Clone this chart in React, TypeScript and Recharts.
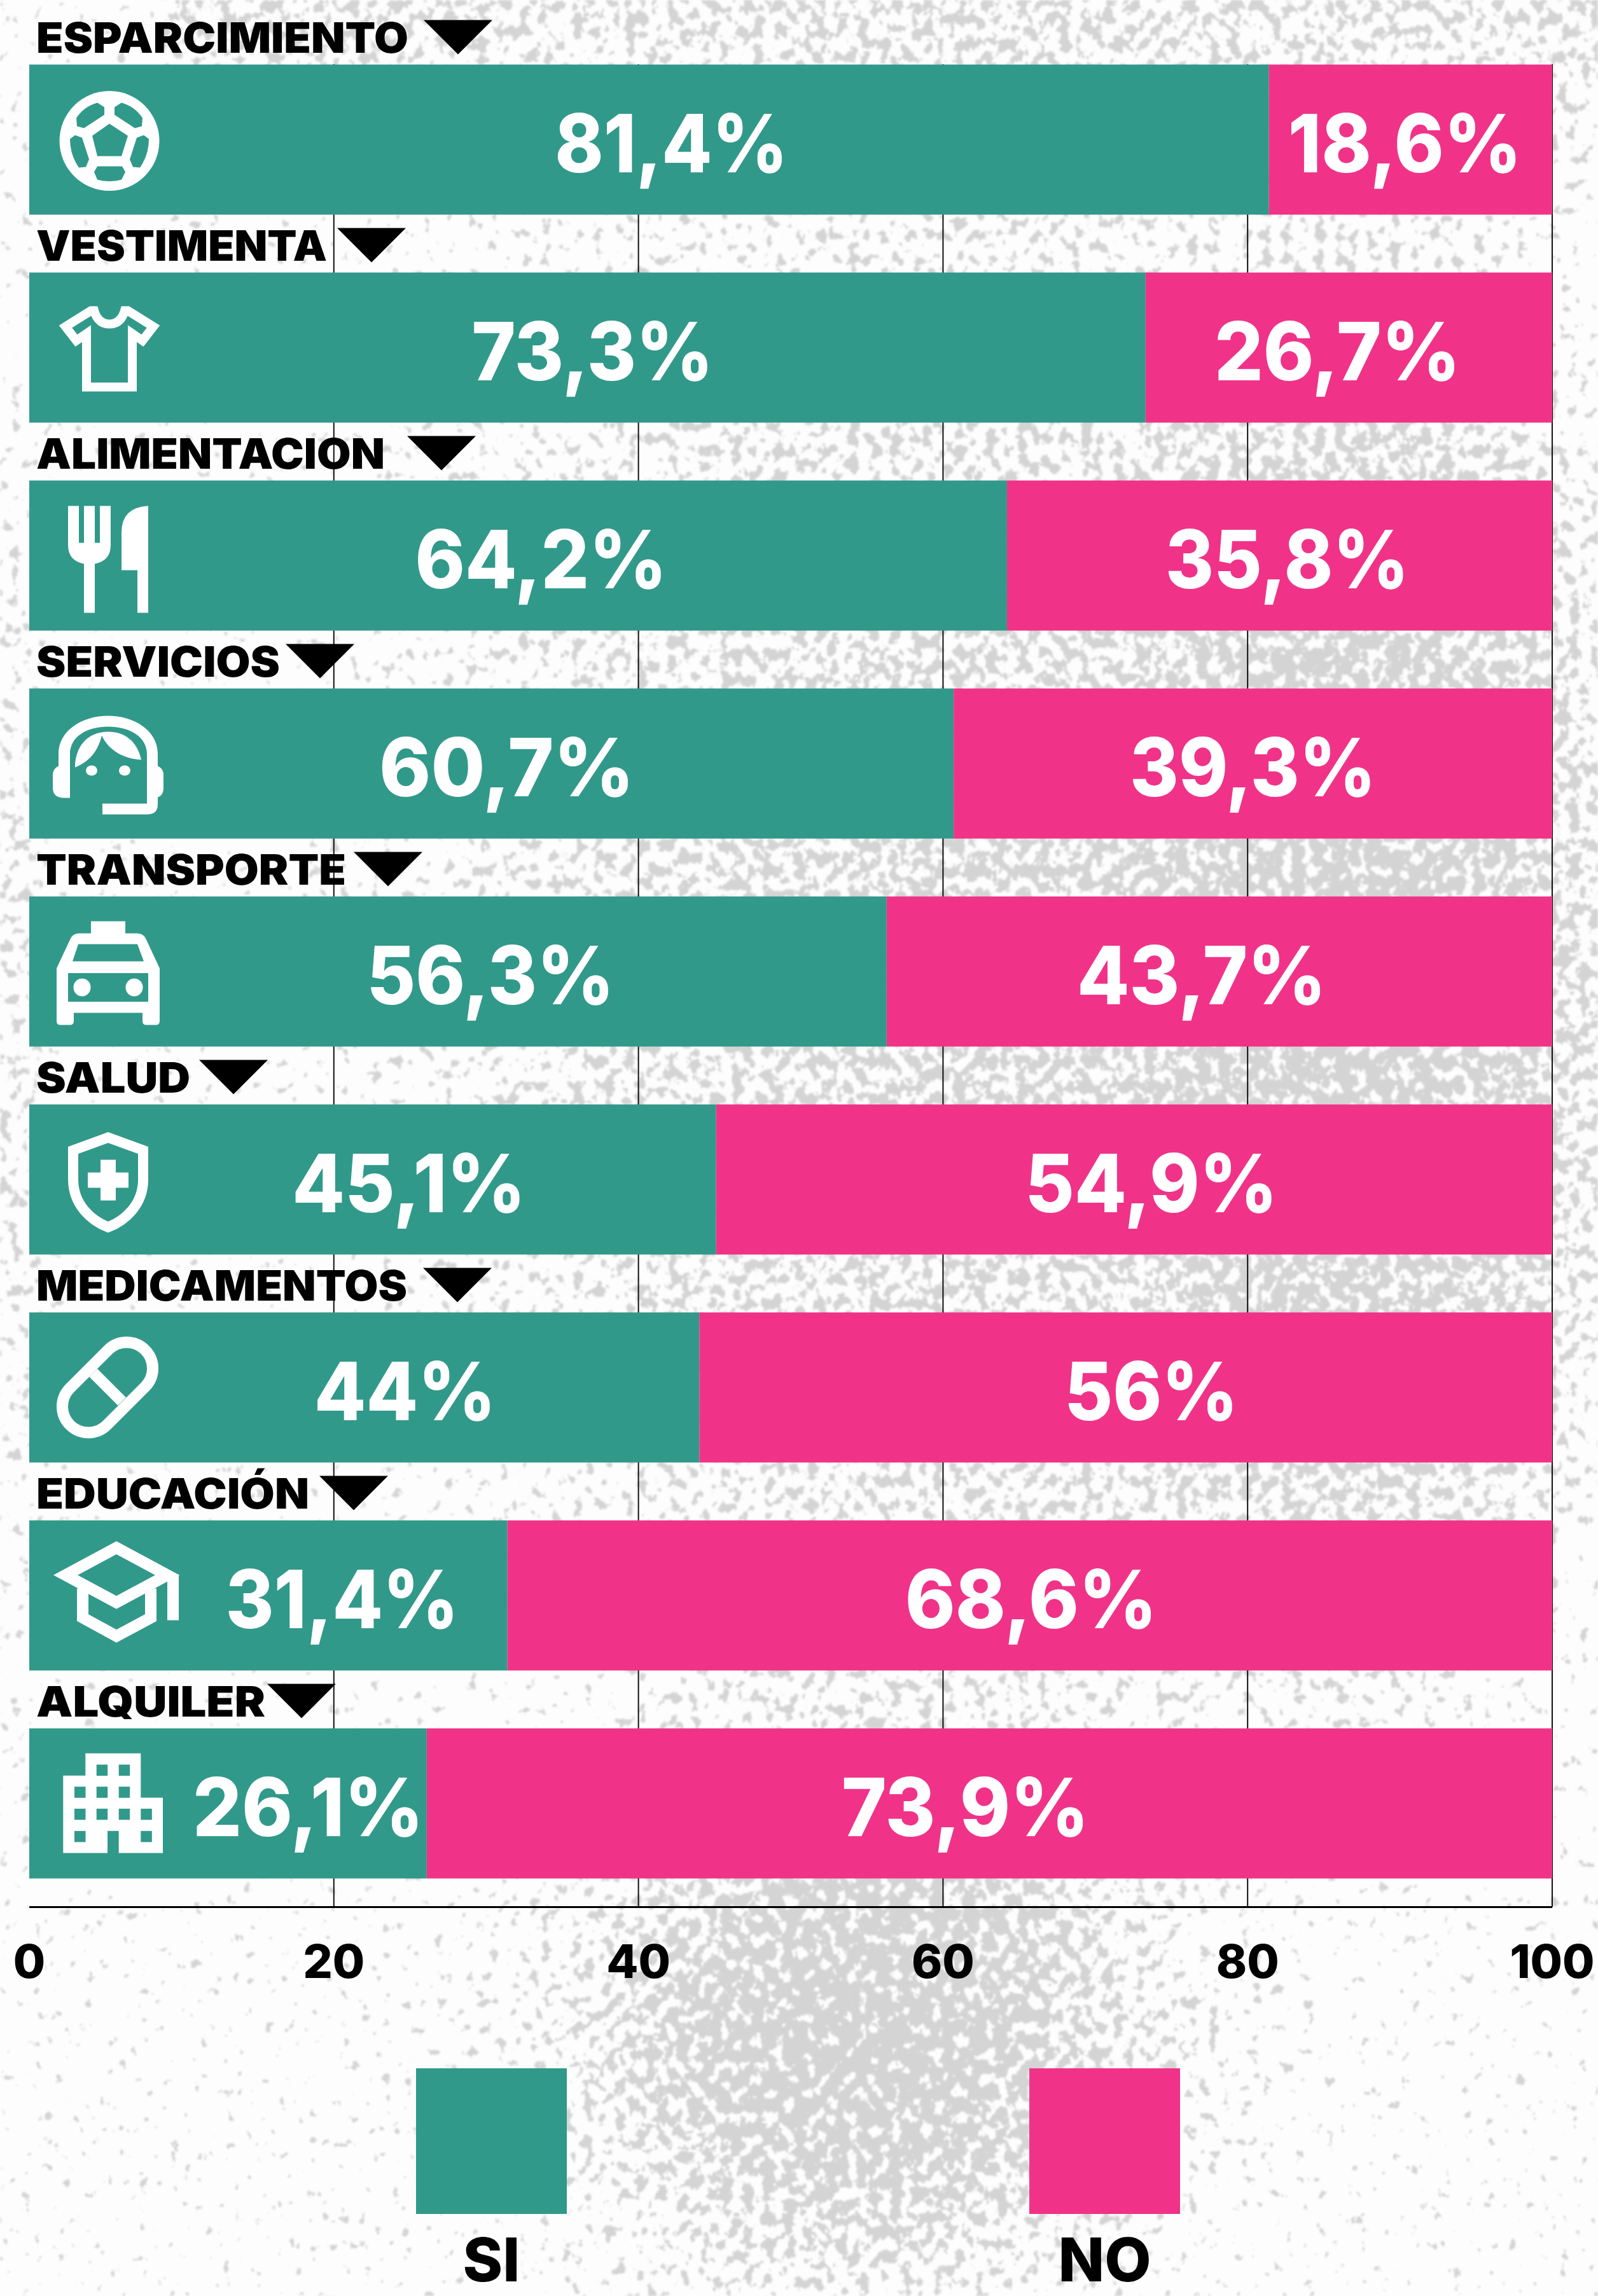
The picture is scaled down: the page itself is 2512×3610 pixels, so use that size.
import React from 'react';
import { BarChart, Bar, XAxis, YAxis, CartesianGrid, LabelList, Legend } from 'recharts';

const categories = ['ESPARCIMIENTO', 'VESTIMENTA', 'ALIMENTACION', 'SERVICIOS', 'TRANSPORTE', 'SALUD', 'MEDICAMENTOS', 'EDUCACIÓN', 'ALQUILER'];
const siValues = [81.4, 73.3, 64.2, 60.7, 56.3, 45.1, 44, 31.4, 26.1];
const noValues = [18.6, 26.7, 35.8, 39.3, 43.7, 54.9, 56, 68.6, 73.9];
const xTicks = [0, 20, 40, 60, 80, 100];

// layout hints for the annotations (not data)
const headerWidths = [585, 457, 548, 383, 487, 242, 583, 429, 360];
const markerCenters = [720, 584, 694, 503, 610, 367, 719, 556, 474];
const siShift = [35, 8, 36, 24, 51, 57, 64, 116, 126];
const siWidth = [366, 380, 396, 401, 389, 367, 286, 366, 363];
const noShift = [-9, -18, 12, 0, -28, 27, 40, 2, -38];
const noWidth = [367, 387, 383, 387, 392, 397, 273, 396, 389];

const TEAL = '#31998A';
const PINK = '#F03388';
const FONT = 'Inter, "Noto Sans", sans-serif';

const table = categories.map((name, i) => ({ name, si: siValues[i], no: noValues[i] }));

function Ball() {
  const tl = 'M-19,-60 L-8,-53 L-8,-41 L-40,-20 L-51,-23 L-52,-36 Q-40,-54 -19,-60 Z';
  const tr = 'M19,-60 L8,-53 L8,-41 L40,-20 L51,-23 L52,-36 Q40,-54 19,-60 Z';
  const l = 'M-62,-3 L-54,-9 L-43,-5 L-32,29 L-37,41 L-48,42 Q-62,22 -62,-3 Z';
  const r = 'M62,-3 L54,-9 L43,-5 L32,29 L37,41 L48,42 Q62,22 62,-3 Z';
  const b = 'M-19,40 L20,40 L25,49 L19,61 Q0,66 -19,61 L-24,49 Z';
  const c = 'M0,-27 L29,-8 L19,24 L-19,24 L-27,-8 Z';
  return (
    <g transform="translate(126,2)">
      <circle r={78.5} fill="#fff" />
      {[tl, tr, l, r, b, c].map((d) => <path key={d} d={d} fill={TEAL} />)}
    </g>
  );
}
function Shirt() {
  return (
    <path transform="translate(126,0)" fill="none" stroke="#fff" strokeWidth={14} strokeLinejoin="miter"
      d="M-24,-58 Q-18,-37 0,-37 Q18,-37 24,-58 L29,-58 L69,-33 L52,-11 L36,-22 L36,62 L-36,62 L-36,-22 L-52,-11 L-69,-33 L-29,-58 Z" />
  );
}
function Cutlery() {
  return (
    <g fill="#fff">
      <path d="M61,-78 L78,-78 L78,-20 L86,-20 L86,-78 L103,-78 L103,-20 L111,-20 L111,-78 L128,-78 L128,-16 Q128,8 103,13 L103,90 L86,90 L86,13 Q61,8 61,-16 Z" />
      <path d="M187,-78 Q145,-76 145,-36 L145,23 L170,23 L170,90 L187,90 Z" />
    </g>
  );
}
function Headset() {
  return (
    <g fill="#fff">
      <path d="M64,54 L64,-15 C64,-42 90,-58 124,-58 C158,-58 185,-42 185,-15 L185,63 L115,63 L115,80 L185,80 Q202,80 202,64 L202,53 Q211,50 211,38 L211,18 Q211,8 202,4 L202,-15 C202,-52 165,-75 124,-75 C83,-75 46,-52 46,-15 L46,4 Q37,8 37,18 L37,38 Q37,54 55,54 Z" />
      <path d="M72,6 C72,-25 90,-50 124,-50 C150,-50 170,-35 176,-6 C150,-7 125,-20 114,-44 C108,-20 95,-3 72,6 Z" />
      <ellipse cx={98} cy={11} rx={9} ry={8} />
      <ellipse cx={150} cy={11} rx={9} ry={8} />
    </g>
  );
}
function Taxi() {
  return (
    <g>
      <path fill="#fff" d="M97,-79 L151,-79 L151,-60 L170,-60 Q180,-60 184,-50 L205,-5 L205,78 Q205,84 199,84 L184,84 Q178,84 178,78 L178,65 L70,65 L70,78 Q70,84 64,84 L49,84 Q43,84 43,78 L43,-5 L64,-50 Q68,-60 78,-60 L97,-60 Z" />
      <path fill={TEAL} d="M77,-43 L170,-43 L180,-16 L68,-16 Z" />
      <rect x={61} y={2.5} width={126} height={45} fill={TEAL} />
      <ellipse cx={83} cy={25} rx={13.5} ry={14} fill="#fff" />
      <ellipse cx={165} cy={25} rx={13.5} ry={14} fill="#fff" />
    </g>
  );
}
function Shield() {
  return (
    <g>
      <path fill="none" stroke="#fff" strokeWidth={16} d="M124,-66 L179,-46 L179,0 C179,40 150,65 124,75 C98,65 69,40 69,0 L69,-46 Z" />
      <path fill="#fff" d="M112,-31 L136,-31 L136,-11 L156,-11 L156,13 L136,13 L136,33 L112,33 L112,13 L92,13 L92,-11 L112,-11 Z" />
    </g>
  );
}
function Pill() {
  return (
    <g fill="none" stroke="#fff" strokeWidth={18}>
      <path d="M64,1 L124,-59 A41,41 0 0 1 182,-1 L122,59 A41,41 0 0 1 64,1 Z" />
      <path d="M100.7,-23 L145.7,22" />
    </g>
  );
}
function Cap() {
  return (
    <g>
      <g fill="none" stroke="#fff" strokeWidth={18}>
        <path d="M137,-75 L217,-32 L137,11 L57,-32 Z" strokeLinejoin="miter" />
        <path d="M84,-11 L84,35 L137,64 L191,35 L191,-11" />
      </g>
      <rect x={217} y={-33} width={18} height={72} fill="#fff" />
    </g>
  );
}
function Buildings() {
  const cols = [71, 105.7, 140.7, 175.3];
  const rows: [number, number[]][] = [[-61, [1, 2]], [-26.3, [0, 1, 2]], [8.3, [0, 1, 2, 3]], [43.3, [0, 3]]];
  return (
    <g>
      <path fill="#fff" d="M88.3,-78.7 L175.3,-78.7 L175.3,-9 L210,-9 L210,78 L140.7,78 L140.7,43.3 L123,43.3 L123,78 L53.3,78 L53.3,-43.7 L88.3,-43.7 Z" />
      {rows.map(([y, cs]) => cs.map((c) => <rect key={`${y}-${c}`} x={cols[c]} y={y} width={17.5} height={17.5} fill={TEAL} />))}
    </g>
  );
}
const icons = [Ball, Shirt, Cutlery, Headset, Taxi, Shield, Pill, Cap, Buildings];

const fmt = (v: number) => `${String(v).replace('.', ',')}%`;

function box(p: any) {
  const vb = p.viewBox ?? {};
  return {
    x: Number(p.x ?? vb.x),
    y: Number(p.y ?? vb.y),
    w: Number(p.width ?? vb.width),
    h: Number(p.height ?? vb.height),
  };
}

function SiLabel(p: any) {
  const { x, y, w, h } = box(p);
  const i = p.index as number;
  const Icon = icons[i];
  const cy = y + h / 2;
  const mx = markerCenters[i];
  return (
    <g>
      <text x={57} y={y - 19} fontFamily={FONT} fontWeight={900} fontSize={66} fill="#000"
        textLength={headerWidths[i]} lengthAdjust="spacingAndGlyphs">{categories[i]}</text>
      <path d={`M${mx - 54},${y - 70} L${mx + 54},${y - 70} L${mx},${y - 16} Z`} fill="#000" />
      <g transform={`translate(${x},${cy})`}><Icon /></g>
      <text x={x + w / 2 + siShift[i]} y={cy + 51} textAnchor="middle" fontFamily={FONT} fontWeight={800} fontSize={127} fill="#fff"
        textLength={siWidth[i]} lengthAdjust="spacingAndGlyphs">{fmt(p.value)}</text>
    </g>
  );
}
function NoLabel(p: any) {
  const { x, y, w, h } = box(p);
  const i = p.index as number;
  return (
    <text x={x + w / 2 + noShift[i]} y={y + h / 2 + 51} textAnchor="middle" fontFamily={FONT} fontWeight={800} fontSize={127} fill="#fff"
      textLength={noWidth[i]} lengthAdjust="spacingAndGlyphs">{fmt(p.value)}</text>
  );
}

function GridLine(p: any) {
  if (p.x1 <= 47) return <g />;
  return <line x1={p.x1} x2={p.x2} y1={p.y1 + 45.5} y2={p.y2} stroke="#111" strokeWidth={2} />;
}

const legendSpots: Record<string, number> = { SI: 654, NO: 1618 };
function LegendBlock(p: any) {
  const items = p.payload ?? [];
  return (
    <div style={{ position: 'relative', width: 2512, height: 358 }}>
      {items.map((it: any) => (
        <div key={it.value} style={{ position: 'absolute', left: legendSpots[it.value], top: 0, width: 237 }}>
          <div style={{ width: 237, height: 229, background: it.color }} />
          <div style={{ position: 'absolute', left: -100, width: 437, top: 243, textAlign: 'center', fontFamily: FONT, fontWeight: 800, fontSize: 95, lineHeight: '115px', color: '#000' }}>{it.value}</div>
        </div>
      ))}
    </div>
  );
}

function Texture() {
  return (
    <svg width={2512} height={3610} style={{ position: 'absolute', left: 0, top: 0 }}>
      <defs>
        <radialGradient id="blob">
          <stop offset="0" stopColor="#000" stopOpacity={0.55} />
          <stop offset="0.55" stopColor="#000" stopOpacity={0.36} />
          <stop offset="1" stopColor="#000" stopOpacity={0} />
        </radialGradient>
        <linearGradient id="topBand" x1="0" x2="0" y1="0" y2="1">
          <stop offset="0" stopColor="#000" stopOpacity={0.4} />
          <stop offset="1" stopColor="#000" stopOpacity={0} />
        </linearGradient>
        <filter id="grain" x="0" y="0" width="100%" height="100%" filterUnits="userSpaceOnUse" colorInterpolationFilters="sRGB">
          <feTurbulence type="fractalNoise" baseFrequency="0.06 0.05" numOctaves={3} seed={11} result="n" />
          <feColorMatrix in="n" type="matrix" values="0 0 0 0 0  0 0 0 0 0  0 0 0 0 0  1.8 0 0 0 -0.4" result="na" />
          <feComposite in="SourceAlpha" in2="na" operator="arithmetic" k1={0} k2={1} k3={1} k4={-1} result="mix" />
          <feComponentTransfer in="mix" result="hard">
            <feFuncA type="linear" slope={9} intercept={0} />
          </feComponentTransfer>
          <feFlood floodColor="#D4D4D4" result="c" />
          <feComposite in="c" in2="hard" operator="in" result="g" />
          <feGaussianBlur in="g" stdDeviation={1.8} />
        </filter>
      </defs>
      <rect width={2512} height={3610} fill="#FDFDFD" />
      <g filter="url(#grain)">
        <rect width={2512} height={3610} fill="#000" fillOpacity={0.13} />
        <rect x={250} y={0} width={2262} height={420} fill="url(#topBand)" />
        <ellipse cx={1550} cy={1500} rx={1150} ry={1650} fill="url(#blob)" />
        <ellipse cx={2200} cy={1500} rx={500} ry={1400} fill="url(#blob)" />
        <ellipse cx={1350} cy={3200} rx={720} ry={640} fill="url(#blob)" />
        <ellipse cx={1350} cy={3200} rx={420} ry={380} fill="url(#blob)" />
        <ellipse cx={0} cy={1650} rx={110} ry={1200} fill="url(#blob)" opacity={0.6} />
      </g>
    </svg>
  );
}

export default function App() {
  return (
    <div style={{ position: 'absolute', left: 0, top: 0, width: 2512, height: 3610, overflow: 'hidden', background: '#FDFDFD' }}>
      <Texture />
      <div style={{ position: 'absolute', left: 0, top: 0 }}>
        <BarChart width={2512} height={3610} data={table} layout="vertical" barSize={236}
          margin={{ top: 55.5, left: 46, right: 72, bottom: 511.5 }}>
          <CartesianGrid horizontal={false} vertical={GridLine as any} />
          <XAxis type="number" domain={[0, 100]} ticks={xTicks} height={100} interval={0} tickLine={false}
            axisLine={{ stroke: '#000', strokeWidth: 3 }} tickMargin={54}
            tick={{ fontFamily: FONT, fontWeight: 800, fontSize: 73, fill: '#000' }} />
          <YAxis type="category" dataKey="name" width={0} tick={false} tickLine={false}
            axisLine={{ stroke: '#000', strokeWidth: 3 }} />
          <Legend verticalAlign="middle" layout="horizontal" content={LegendBlock as any}
            wrapperStyle={{ position: 'absolute', left: 0, top: 3252, width: 2512, height: 358 }} />
          <Bar dataKey="si" name="SI" stackId="a" fill={TEAL} isAnimationActive={false}>
            <LabelList dataKey="si" content={SiLabel as any} />
          </Bar>
          <Bar dataKey="no" name="NO" stackId="a" fill={PINK} isAnimationActive={false}>
            <LabelList dataKey="no" content={NoLabel as any} />
          </Bar>
        </BarChart>
      </div>
    </div>
  );
}
